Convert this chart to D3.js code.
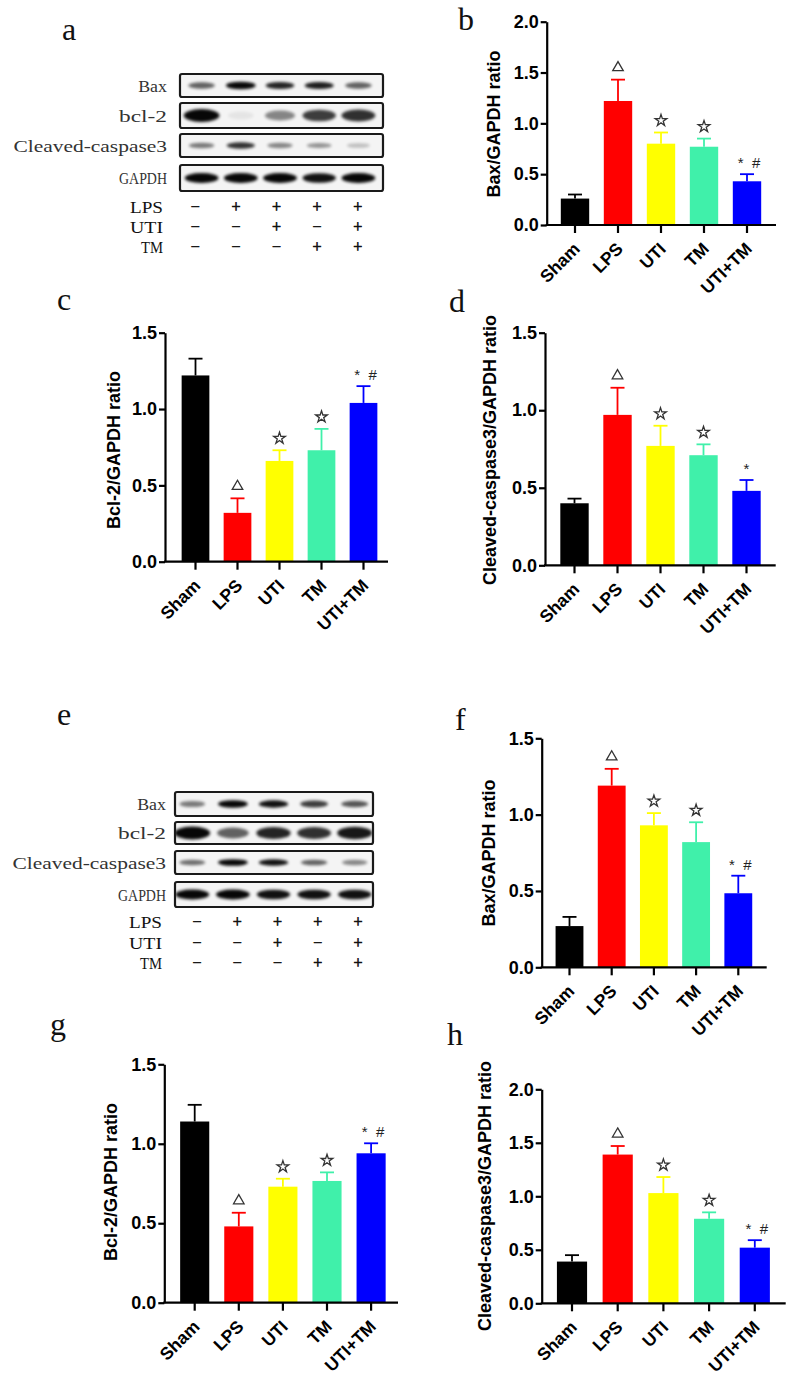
<!DOCTYPE html>
<html><head><meta charset="utf-8">
<script src="https://cdn.jsdelivr.net/npm/d3@7"></script>
<style>
html,body{margin:0;padding:0;background:#fff;}
svg{display:block;}
</style></head>
<body>
<svg id="fig" width="800" height="1377"></svg>
<script>
// ---------- DATA ----------
const groups = ["Sham", "LPS", "UTI", "TM", "UTI+TM"];
const barColors = ["#000000", "#ff0000", "#ffff00", "#40f0aa", "#0000ff"];
const yTicks2 = ["0.0", "0.5", "1.0", "1.5", "2.0"];
const yTicks15 = ["0.0", "0.5", "1.0", "1.5"];

// panel b : Bax/GAPDH (a blot)
const bMean = [0.26, 1.22, 0.80, 0.77, 0.43];
const bErr  = [0.04, 0.21, 0.11, 0.08, 0.07];
const bSig  = ["", "△", "☆", "☆", "* #"];
// panel c : Bcl-2/GAPDH
const cMean = [1.22, 0.32, 0.66, 0.73, 1.04];
const cErr  = [0.11, 0.095, 0.07, 0.14, 0.11];
const cSig  = ["", "△", "☆", "☆", "* #"];
// panel d : Cleaved-caspase3/GAPDH
const dMean = [0.40, 0.97, 0.77, 0.71, 0.48];
const dErr  = [0.03, 0.175, 0.13, 0.07, 0.07];
const dSig  = ["", "△", "☆", "☆", "*"];
// panel f : Bax/GAPDH (e blot)
const fMean = [0.27, 1.19, 0.93, 0.82, 0.485];
const fErr  = [0.06, 0.11, 0.08, 0.13, 0.115];
const fSig  = ["", "△", "☆", "☆", "* #"];
// panel g : Bcl-2/GAPDH
const gMean = [1.14, 0.48, 0.73, 0.766, 0.94];
const gErr  = [0.105, 0.086, 0.05, 0.054, 0.063];
const gSig  = ["", "△", "☆", "☆", "* #"];
// panel h : Cleaved-caspase3/GAPDH
const hMean = [0.39, 1.39, 1.03, 0.79, 0.52];
const hErr  = [0.06, 0.08, 0.15, 0.06, 0.07];
const hSig  = ["", "△", "☆", "☆", "* #"];

// western blots
const blotRows = ["Bax", "bcl-2", "Cleaved-caspase3", "GAPDH"];
const treatRows = ["LPS", "UTI", "TM"];
const signsLPS = ["−", "+", "+", "+", "+"];
const signsUTI = ["−", "−", "+", "−", "+"];
const signsTM  = ["−", "−", "−", "+", "+"];
// band intensities (0..1) per row, per lane
const aBands = [
  [0.60, 0.97, 0.85, 0.88, 0.60],
  [0.97, 0.06, 0.45, 0.75, 0.80],
  [0.50, 0.80, 0.45, 0.40, 0.22],
  [0.97, 0.97, 0.97, 0.93, 0.97]
];
const eBands = [
  [0.50, 0.97, 0.93, 0.75, 0.65],
  [0.97, 0.60, 0.85, 0.80, 0.90],
  [0.55, 0.97, 0.93, 0.60, 0.45],
  [0.97, 0.97, 0.93, 0.93, 0.93]
];

// ---------- DRAWING ----------
const svg = d3.select("#fig");
const defs = svg.append("defs");
defs.append("filter").attr("id", "blur").attr("x", "-50%").attr("y", "-100%").attr("width", "200%").attr("height", "300%")
  .append("feGaussianBlur").attr("stdDeviation", 1.5);

const SANS = "'Liberation Sans', Arial, sans-serif";
const SERIF = "'Liberation Serif', 'Times New Roman', serif";

function panelLetter(t, x, y) {
  svg.append("text").attr("x", x).attr("y", y).text(t)
    .attr("font-family", SERIF).attr("font-size", 32).attr("fill", "#111");
}

function drawBar(cfg, means, errs, sigs, ticks, ylabel) {
  const g = svg.append("g");
  const maxV = +ticks[ticks.length - 1];
  const y = d3.scaleLinear().domain([0, maxV]).range([cfg.bottom, cfg.top]);
  const x = d3.scaleBand().domain(groups).range([cfg.r0, cfg.r1]).paddingInner(0.34).paddingOuter(0.17);
  const bw = x.bandwidth();
  const data = groups.map((k, i) => ({k, m: means[i], e: errs[i], s: sigs[i], c: barColors[i]}));

  // error bars (upper only)
  g.selectAll(".eb").data(data).join("line")
    .attr("x1", d => x(d.k) + bw / 2).attr("x2", d => x(d.k) + bw / 2)
    .attr("y1", d => y(d.m)).attr("y2", d => y(d.m + d.e))
    .attr("stroke", d => d.c).attr("stroke-width", 1.8);
  g.selectAll(".ec").data(data).join("line")
    .attr("x1", d => x(d.k) + bw / 2 - 7).attr("x2", d => x(d.k) + bw / 2 + 7)
    .attr("y1", d => y(d.m + d.e)).attr("y2", d => y(d.m + d.e))
    .attr("stroke", d => d.c).attr("stroke-width", 1.8);
  // bars
  g.selectAll(".bar").data(data).join("rect")
    .attr("x", d => x(d.k)).attr("y", d => y(d.m))
    .attr("width", bw).attr("height", d => y(0) - y(d.m))
    .attr("fill", d => d.c);

  // significance marks
  const sym = data.filter(d => d.s === "△" || d.s === "☆");
  g.selectAll(".sym").data(sym).join("path")
    .attr("d", d => d3.symbol(d.s === "△" ? d3.symbolTriangle : d3.symbolStar, d.s === "△" ? 48 : 42)())
    .attr("transform", d => `translate(${x(d.k) + bw / 2},${y(d.m + d.e) - 12})`)
    .attr("fill", "#fff").attr("stroke", "#333").attr("stroke-width", 1.3);
  const txt = data.filter(d => d.s && d.s !== "△" && d.s !== "☆");
  g.selectAll(".sig").data(txt).join("text")
    .attr("x", d => x(d.k) + bw / 2 + (d.s.length > 1 ? 2 : 0))
    .attr("y", d => y(d.m + d.e) - 6)
    .attr("text-anchor", "middle")
    .attr("font-family", SANS).attr("font-size", 15)
    .attr("fill", "#222")
    .attr("xml:space", "preserve")
    .text(d => d.s.replace(" ", "  "));

  // y axis
  const yAxis = d3.axisLeft(y).tickValues(ticks.map(Number)).tickFormat((d, i) => ticks[i])
    .tickSize(6).tickSizeOuter(0).tickPadding(2);
  const ga = g.append("g").attr("transform", `translate(${cfg.axisX},0)`).call(yAxis);
  ga.select(".domain").attr("stroke", "#000").attr("stroke-width", 2.2);
  ga.selectAll(".tick line").attr("stroke", "#000").attr("stroke-width", 2.2);
  ga.selectAll(".tick text").attr("font-family", SANS).attr("font-weight", "bold")
    .attr("font-size", 18).attr("fill", "#000");

  // x axis
  g.append("line").attr("x1", cfg.axisX - 1).attr("x2", cfg.xEnd)
    .attr("y1", y(0)).attr("y2", y(0)).attr("stroke", "#000").attr("stroke-width", 2.2);
  const xAxis = d3.axisBottom(x).tickSize(8).tickSizeOuter(0).tickFormat("");
  const gx = g.append("g").attr("transform", `translate(0,${y(0)})`).call(xAxis);
  gx.select(".domain").remove();
  gx.selectAll(".tick line").attr("stroke", "#000").attr("stroke-width", 2.2);

  g.selectAll(".cat").data(groups).join("text")
    .attr("transform", d => `translate(${x(d) + bw / 2 + 6},${y(0) + 25}) rotate(-45)`)
    .attr("text-anchor", "end")
    .attr("font-family", SANS).attr("font-weight", "bold").attr("font-size", 17.5)
    .attr("fill", "#000").text(d => d);

  // y label
  g.append("text")
    .attr("transform", `translate(${cfg.labX},${cfg.labY}) rotate(-90)`)
    .attr("text-anchor", "middle")
    .attr("font-family", SANS).attr("font-weight", "bold").attr("font-size", 18)
    .attr("fill", "#000").text(ylabel);
}

function drawBlot(cfg, bands) {
  const g = svg.append("g");
  const lane = d3.scaleBand().domain(d3.range(5)).range([cfg.l0, cfg.l1]);
  const signLane = d3.scaleBand().domain(d3.range(5)).range([cfg.s0, cfg.s1]);
  const ryRow = [3.8, 6.5, 3.4, 5.0];
  const rxRow = [15, 18, 15, 17];
  blotRows.forEach((name, r) => {
    const [t, b] = cfg.rows[r];
    const cy = (t + b) / 2;
    g.append("rect").attr("x", cfg.bx0).attr("y", t).attr("width", cfg.bx1 - cfg.bx0).attr("height", b - t)
      .attr("rx", 2).attr("fill", "#f4f4f4").attr("stroke", "#1a1a1a").attr("stroke-width", 2.2);
    const clip = "clip" + cfg.id + r;
    defs.append("clipPath").attr("id", clip).append("rect")
      .attr("x", cfg.bx0 + 1).attr("y", t + 1).attr("width", cfg.bx1 - cfg.bx0 - 2).attr("height", b - t - 2);
    const bg = g.append("g").attr("clip-path", `url(#${clip})`);
    bg.selectAll("ellipse").data(bands[r]).join("ellipse")
      .attr("cx", (d, i) => lane(i) + lane.bandwidth() / 2)
      .attr("cy", cy)
      .attr("rx", d => rxRow[r] * (0.7 + 0.3 * d))
      .attr("ry", d => ryRow[r] * (0.6 + 0.4 * d))
      .attr("fill", "#000")
      .attr("opacity", d => d)
      .attr("filter", "url(#blur)");
    const n = name.length;
    g.append("text").attr("x", cfg.labR).attr("y", cy + 6).attr("text-anchor", "end")
      .attr("font-family", SERIF).attr("font-size", 17).attr("fill", "#333")
      .attr("textLength", n * 9.6).attr("lengthAdjust", "spacingAndGlyphs").text(name);
  });
  const signs = [signsLPS, signsUTI, signsTM];
  treatRows.forEach((name, r) => {
    const yy = cfg.treatY[r];
    g.append("text").attr("x", cfg.labR - 4).attr("y", yy).attr("text-anchor", "end")
      .attr("font-family", SERIF).attr("font-size", 17).attr("fill", "#111")
      .attr("textLength", name.length * 11).attr("lengthAdjust", "spacingAndGlyphs").text(name);
    g.selectAll(".sg" + r).data(signs[r]).join("text")
      .attr("x", (d, i) => signLane(i) + signLane.bandwidth() / 2)
      .attr("y", yy - 1).attr("text-anchor", "middle")
      .attr("font-family", SERIF).attr("font-size", 16).attr("fill", "#111")
      .attr("stroke", "#111").attr("stroke-width", 0.6).text(d => d);
  });
}

// panel letters
panelLetter("a", 62, 40);
panelLetter("b", 458, 30);
panelLetter("c", 57, 310);
panelLetter("d", 449, 312);
panelLetter("e", 57, 725);
panelLetter("f", 455, 730);
panelLetter("g", 50, 1035);
panelLetter("h", 447, 1045);

// blots
drawBlot({id: "a", bx0: 180, bx1: 383, l0: 182, l1: 378, s0: 175, s1: 378, labR: 167,
  rows: [[74, 97], [103, 128], [134, 157], [165, 191]], treatY: [213, 233, 253]}, aBands);
drawBlot({id: "e", bx0: 175, bx1: 373, l0: 172, l1: 375, s0: 177, s1: 378, labR: 166,
  rows: [[792, 816], [822, 844], [851, 874], [882, 907]], treatY: [928, 949, 969]}, eBands);

// bar charts
drawBar({axisX: 546.7, top: 21.7, bottom: 225, xEnd: 776, r0: 553.5, r1: 768.5, labX: 500, labY: 124},
  bMean, bErr, bSig, yTicks2, "Bax/GAPDH ratio");
drawBar({axisX: 165, top: 332.7, bottom: 561.7, xEnd: 388, r0: 174.5, r1: 384.5, labX: 120, labY: 450},
  cMean, cErr, cSig, yTicks15, "Bcl-2/GAPDH ratio");
drawBar({axisX: 545, top: 332.7, bottom: 565.3, xEnd: 775.7, r0: 553, r1: 768, labX: 496, labY: 450},
  dMean, dErr, dSig, yTicks15, "Cleaved-caspase3/GAPDH ratio");
drawBar({axisX: 541.7, top: 738.3, bottom: 967.3, xEnd: 766.7, r0: 548.4, r1: 759.4, labX: 495, labY: 853},
  fMean, fErr, fSig, yTicks15, "Bax/GAPDH ratio");
drawBar({axisX: 164.3, top: 1064.3, bottom: 1302.7, xEnd: 398, r0: 172.65, r1: 393.15, labX: 117, labY: 1182},
  gMean, gErr, gSig, yTicks15, "Bcl-2/GAPDH ratio");
drawBar({axisX: 541.7, top: 1089.3, bottom: 1303.3, xEnd: 785.7, r0: 549.15, r1: 777.65, labX: 491, labY: 1196},
  hMean, hErr, hSig, yTicks2, "Cleaved-caspase3/GAPDH ratio");
</script>
</body></html>
